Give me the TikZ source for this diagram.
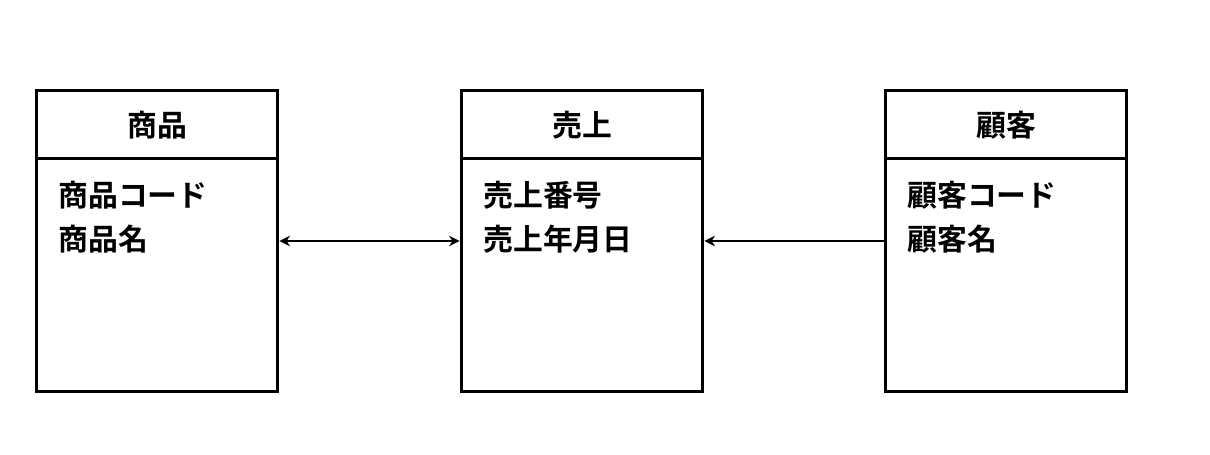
\documentclass[tikz,border=0pt]{standalone}
\usepackage{fontspec}
\setmainfont{Noto Sans CJK JP}[BoldFont={* Bold}]
\usetikzlibrary{positioning,arrows.meta}

\begin{document}
\begin{tikzpicture}[
    x=0.02cm, y=-0.02cm,
    entity/.style={draw, line width=1.7pt, minimum width=4.84cm, minimum height=6.04cm, inner sep=0pt},
    title/.style={font=\fontsize{17}{20}\selectfont\bfseries},
    attr/.style={font=\fontsize{17}{20}\selectfont\bfseries, anchor=west, inner sep=0pt},
    rel/.style={line width=1.2pt, >={Stealth[length=6pt,width=6pt]}}
]
\useasboundingbox (0,0) rectangle (1210,455);

% Entities
\node[entity] (shohin) at (157,241) {};
\node[entity] (uriage) at (582,241) {};
\node[entity] (kokyaku) at (1006,241) {};

% Header separators
\foreach \e in {shohin, uriage, kokyaku}
    \draw[line width=1.7pt] (\e.north west) ++(0,70) -- ++(242,0);

% Titles
\node[title] at (157,125) {商品};
\node[title] at (582,125) {売上};
\node[title] at (1006,125) {顧客};

% Attributes
\node[attr] (s1) at (58,195) {商品コード};
\node[attr, below=0.3cm of s1.south west, anchor=north west] (s2) {商品名};
\node[attr] (u1) at (483,195) {売上番号};
\node[attr, below=0.3cm of u1.south west, anchor=north west] (u2) {売上年月日};
\node[attr] (k1) at (907,195) {顧客コード};
\node[attr, below=0.3cm of k1.south west, anchor=north west] (k2) {顧客名};

% Relationships
\draw[rel, <->] (shohin.east) -- (uriage.west);
\draw[rel, ->] (kokyaku.west) -- (uriage.east);

\end{tikzpicture}
\end{document}
